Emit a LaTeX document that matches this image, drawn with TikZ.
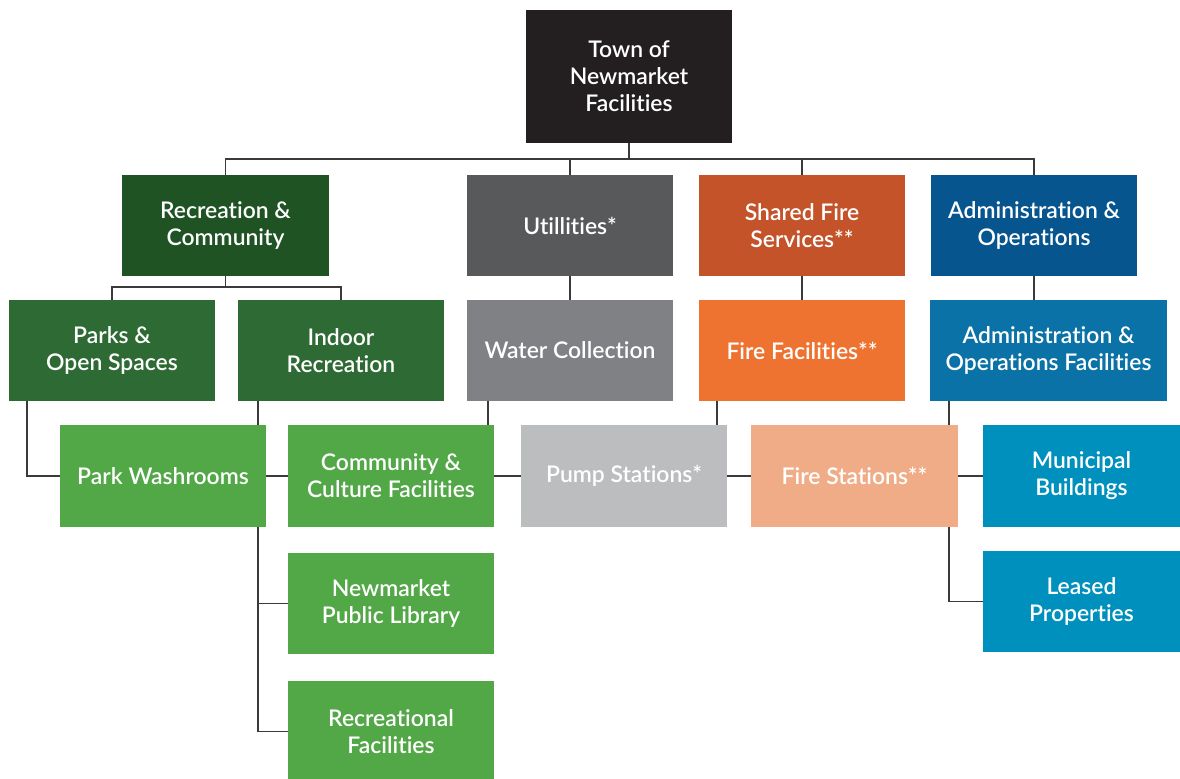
\documentclass[tikz,border=0pt]{standalone}
\usepackage{fontspec}
\setmainfont{Lato}[UprightFont={* Semibold}, Ligatures=NoCommon]
\usetikzlibrary{backgrounds}
\definecolor{townc}{HTML}{231F20}
\definecolor{recc}{HTML}{1F5324}
\definecolor{utilc}{HTML}{58595B}
\definecolor{sfirec}{HTML}{C4532A}
\definecolor{adminc}{HTML}{07558F}
\definecolor{parkc}{HTML}{2E6B34}
\definecolor{waterc}{HTML}{808184}
\definecolor{ffacc}{HTML}{EE7331}
\definecolor{afacc}{HTML}{0A72A6}
\definecolor{facc}{HTML}{52A747}
\definecolor{pumpc}{HTML}{BCBDBF}
\definecolor{fstatc}{HTML}{F0AC87}
\definecolor{bldc}{HTML}{0090BE}
\definecolor{linec}{HTML}{3A3A3A}
\tikzset{box/.style = {fill=#1, text=white, inner sep=0, align=center,
                       minimum width=5.15cm, minimum height=2.525cm,
                       font=\fontsize{16.3}{19.2}\selectfont}}
\tikzset{link/.style = {draw=linec, line width=1.4pt}}

\begin{document}
\begin{tikzpicture}[x=0.025cm, y=-0.025cm]
      \useasboundingbox (0, 0) rectangle (1180, 778);
      \clip (0, 0) rectangle (1180, 778);

      \node [box=townc, minimum height=3.325cm] (town) at (629, 76.5) {Town of\\Newmarket\\Facilities};

      \node [box=recc] (rec) at (225.5, 225.5) {Recreation \&\\Community};
      \node [box=utilc] (util) at (570, 225.5) {Utillities*};
      \node [box=sfirec] (sfire) at (802, 225.5) {Shared Fire\\Services**};
      \node [box=adminc] (admin) at (1034, 225.5) {Administration \&\\Operations};

      \node [box=parkc] (parks) at (112, 350.5) {Parks \&\\Open Spaces};
      \node [box=parkc] (indoor) at (341, 350.5) {Indoor\\Recreation};
      \node [box=waterc] (water) at (570, 350.5) {Water Collection};
      \node [box=ffacc] (ffac) at (802, 350.5) {Fire Facilities**};
      \node [box=afacc, minimum width=5.925cm] (afac) at (1048.5, 350.5) {Administration \&\\Operations Facilities};

      \node [box=facc] (wash) at (163, 476) {Park Washrooms};
      \node [box=facc] (comm) at (391, 476) {Community \&\\Culture Facilities};
      \node [box=pumpc] (pump) at (624, 476) {Pump Stations*};
      \node [box=fstatc] (fstat) at (854.5, 476) {Fire Stations**};
      \node [box=bldc, minimum width=4.925cm] (muni) at (1081.5, 476) {Municipal\\Buildings};
      \node [box=bldc, minimum width=4.925cm] (leased) at (1081.5, 601.5) {Leased\\Properties};

      \node [box=facc] (lib) at (391, 603.5) {Newmarket\\Public Library};
      \node [box=facc] (recfac) at (391, 731.5) {Recreational\\Facilities};

      \begin{scope}[on background layer]
        \coordinate (bus) at (629, 159);
        \coordinate (recbus) at (225.5, 287);
        \draw [link] (town.south) -- (bus);
        \draw [link] (rec.north) |- (bus) -| (admin.north);
        \draw [link] (util.north) -- (util.north |- bus);
        \draw [link] (sfire.north) -- (sfire.north |- bus);

        \draw [link] (rec.south) -- (recbus);
        \draw [link] (parks.north) |- (recbus) -| (indoor.north);
        \draw [link] (util.south) -- (water.north);
        \draw [link] (sfire.south) -- (ffac.north);
        \draw [link] (admin.south) -- (admin.south |- afac.north);

        \draw [link] (parks.south west) ++(18, 0) |- (wash.west);
        \draw [link] (indoor.south west) ++(20, 0) coordinate (indrop) |- (recfac.west);
        \draw [link] (indrop) |- (lib.west);
        \draw [link] (water.south west) ++(21, 0) coordinate (wdrop) -- (wdrop |- comm.north);
        \draw [link] (ffac.south west) ++(18, 0) coordinate (fdrop) -- (fdrop |- pump.north);
        \draw [link] (afac.south west) ++(19, 0) |- (leased.west);

        \draw [link] (wash.east) -- (comm.west);
        \draw [link] (comm.east) -- (pump.west);
        \draw [link] (pump.east) -- (fstat.west);
        \draw [link] (fstat.east) -- (muni.west);
      \end{scope}
    \end{tikzpicture}
\end{document}
